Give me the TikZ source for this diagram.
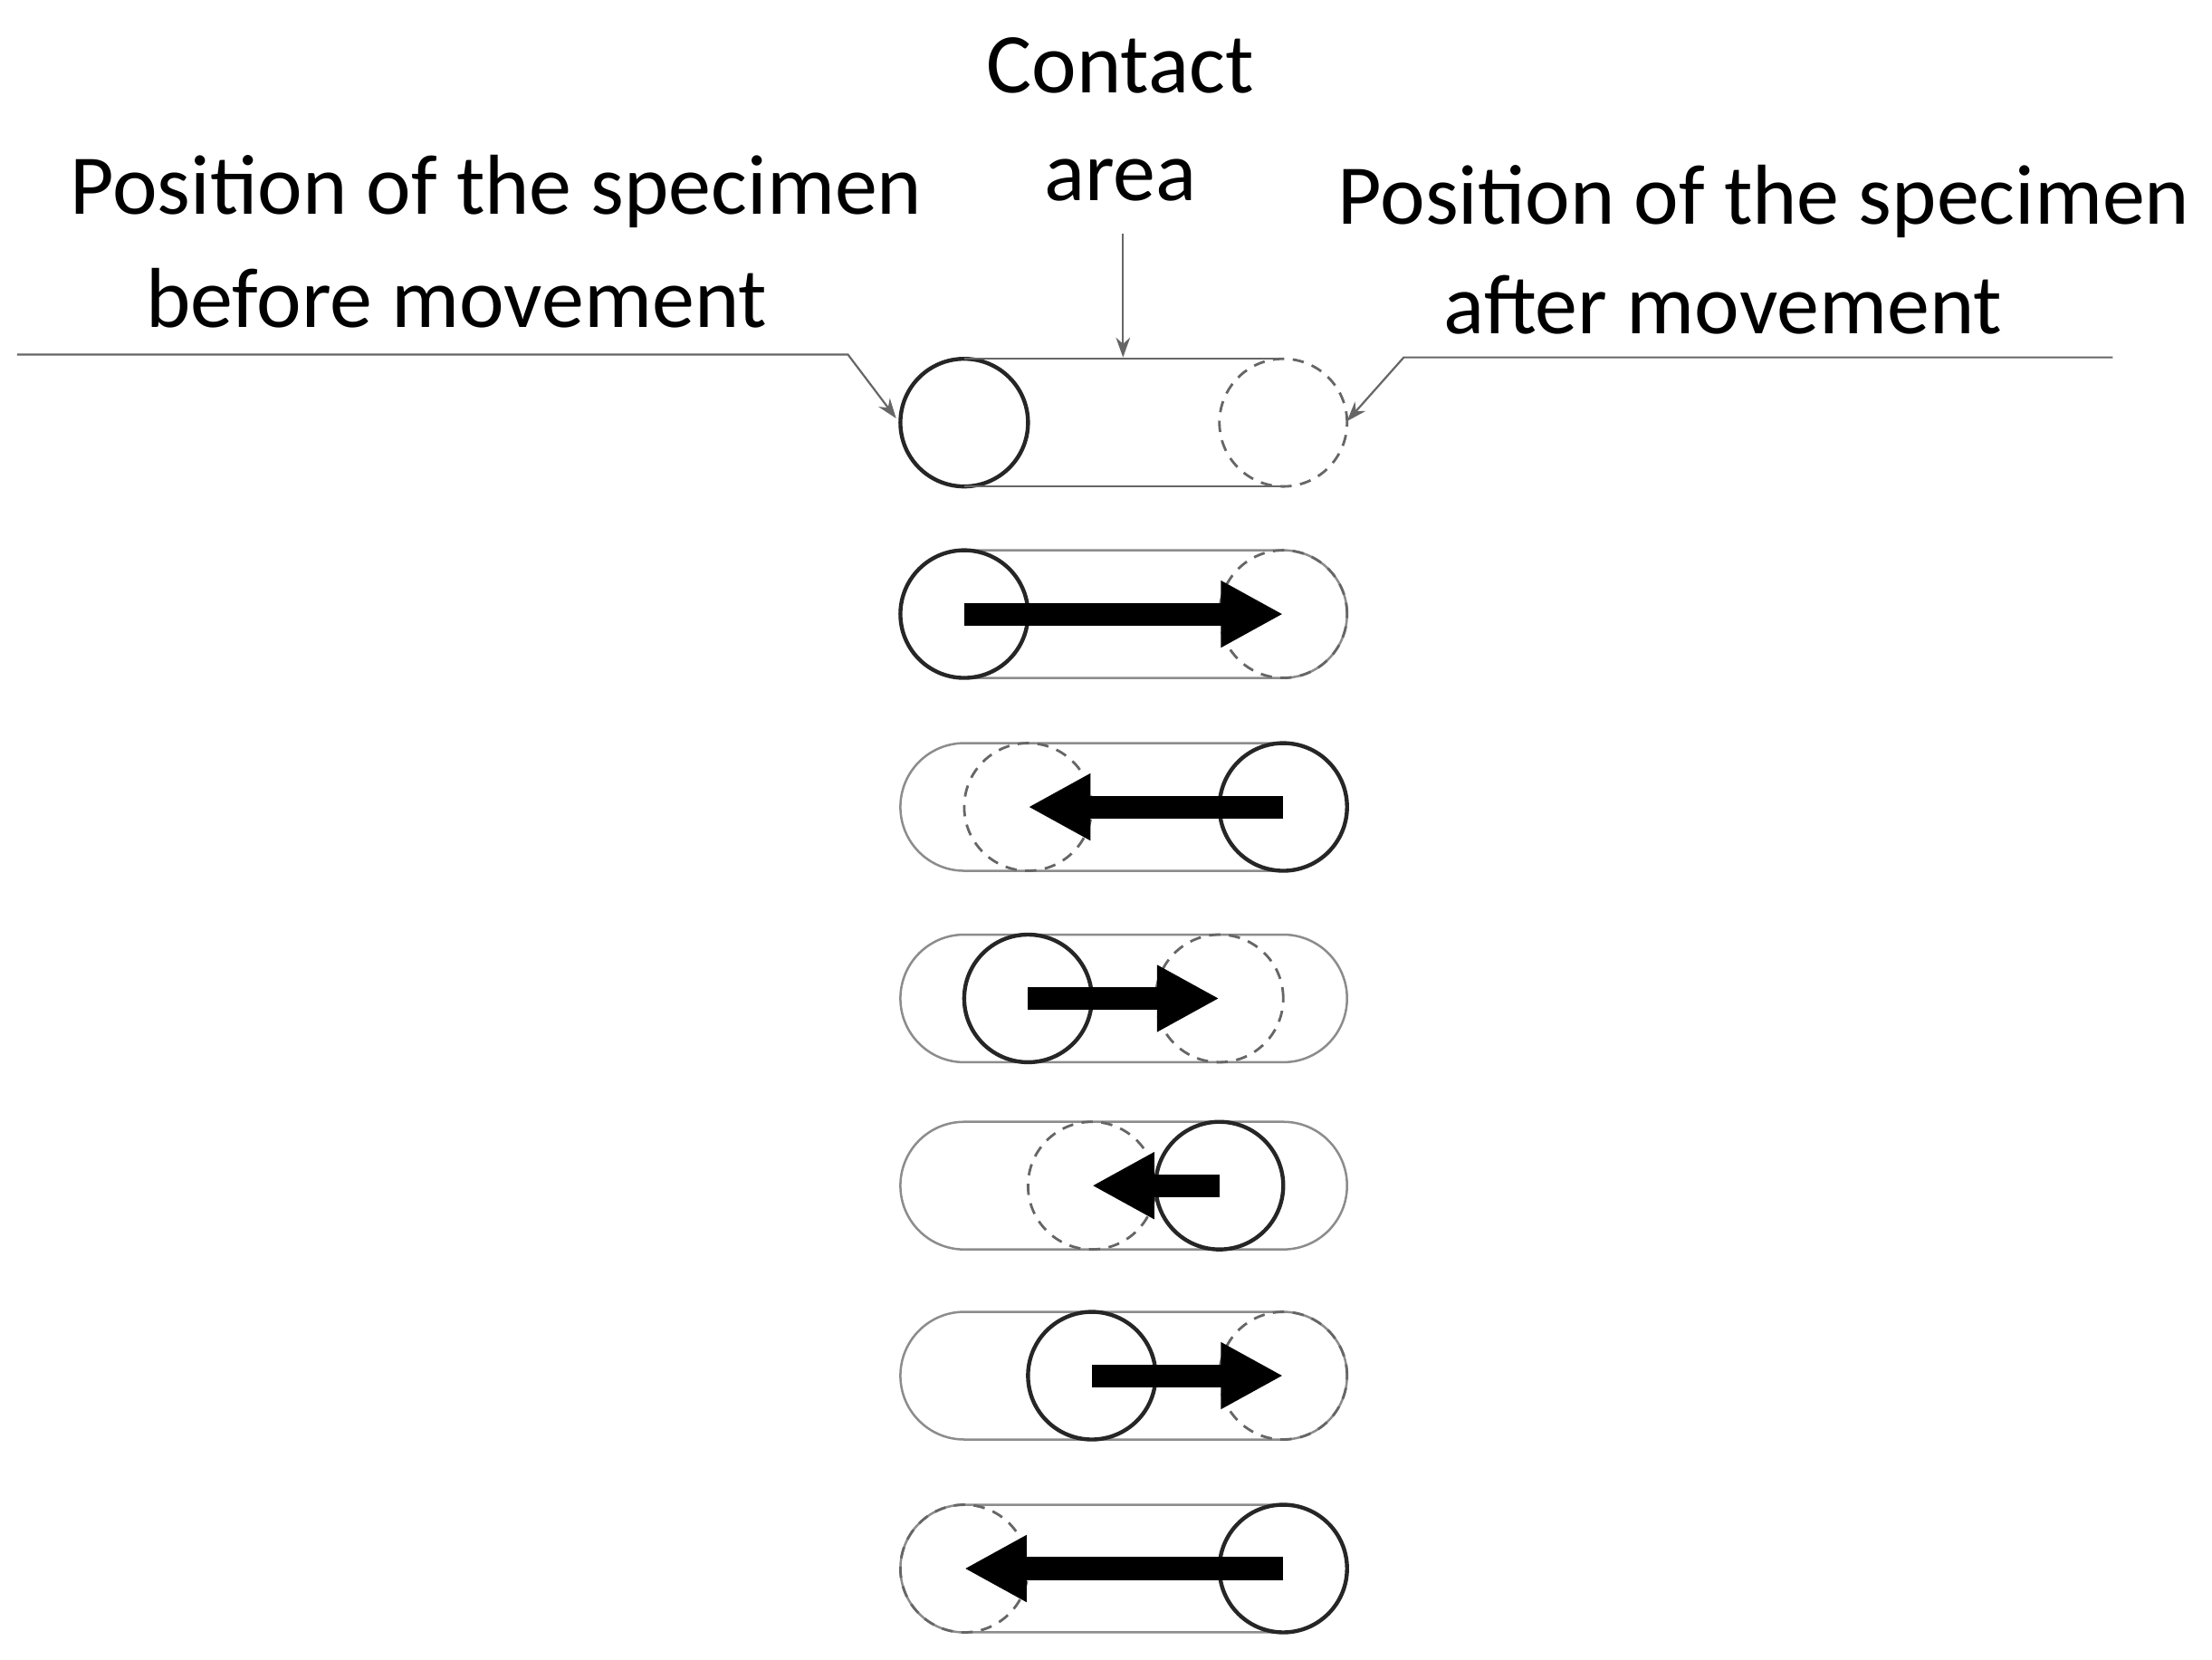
\documentclass[tikz,border=0pt]{standalone}
\usepackage{fontspec}
\setmainfont{Carlito}
\usetikzlibrary{arrows.meta}
\begin{document}
\begin{tikzpicture}[x=0.5pt,y=-0.5pt,
 lbl/.style={font=\fontsize{30}{36}\selectfont,inner sep=0pt},
 solid c/.style={draw=black!85,line width=1.4pt,circle,minimum size=45pt,inner sep=0pt},
 dash c/.style={draw=black!60,line width=0.9pt,dashed,dash pattern=on 4pt off 3pt,circle,minimum size=45pt,inner sep=0pt},
 track/.style={draw=black!45,line width=0.8pt,rounded corners=22.5pt},
 mv/.style={line width=8pt,-{Triangle[length=22pt,width=22pt]}},
 lead/.style={draw=black!60,line width=0.7pt},
 lt/.style={-{Stealth[length=7pt,width=5pt]}}]
\useasboundingbox (0,0) rectangle (1560,1170);
% labels
\node[lbl,align=center] (ca) at (790,84) {Contact\\[2pt]area};
\node[lbl] (pl1) at (350,135) {Position of the specimen};
\node[lbl] (pl2) at (322,210) {before movement};
\node[lbl] (pr1) at (1244,142) {Position of the specimen};
\node[lbl] (pr2) at (1215,215) {after movement};
% row 1
\node[solid c] (s1) at (680,298) {};
\node[dash c] (d1) at (905,298) {};
\draw[lead] (680,253) -- (905,253);
\draw[lead] (680,343) -- (905,343);
\coordinate (ca0) at (792,165);
\coordinate (ca1) at (792,252);
\draw[lead,lt] (ca0) -- (ca1);
\coordinate (l0) at (12,250); \coordinate (l1) at (598,250); \coordinate (l2) at (632,295);
\draw[lead,lt] (l0) -- (l1) -- (l2);
\coordinate (r0) at (1490,252); \coordinate (r1) at (990,252); \coordinate (r2) at (950,297);
\draw[lead,lt] (r0) -- (r1) -- (r2);
% rows 2-7
\foreach \y/\sx/\dx [count=\i from 2] in {433/680/905, 569/905/725, 704/725/860, 836/860/770, 970/770/905, 1106/905/680}{
 \draw[track] (635,\y-45) rectangle (950,\y+45);
 \node[dash c] (d\i) at (\dx,\y) {};
 \node[solid c] (s\i) at (\sx,\y) {};
 \draw[mv] (s\i.center) -- (d\i.center);
}
\end{tikzpicture}
\end{document}
